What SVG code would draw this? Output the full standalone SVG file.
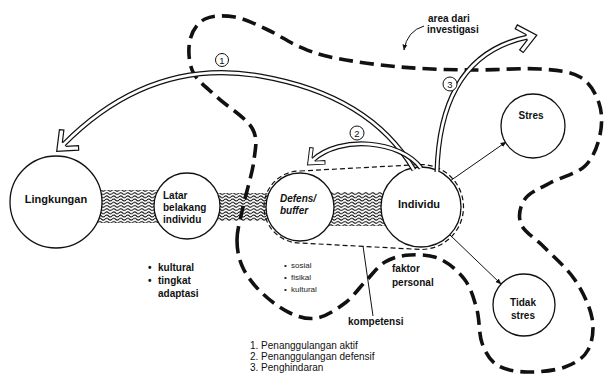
<svg xmlns="http://www.w3.org/2000/svg" xmlns:xlink="http://www.w3.org/1999/xlink" width="604" height="381" viewBox="0 0 604 381">
<style>
text{font-family:"Liberation Sans",Arial,sans-serif;fill:#111}
.b{font-weight:bold;font-size:10px}
.node{fill:#fff;stroke:#111;stroke-width:1.3}
.band{fill:url(#wave)}
.env{fill:none;stroke:#111;stroke-width:1.2;stroke-dasharray:5 3}
.area{fill:none;stroke:#111;stroke-width:3.6;stroke-dasharray:14 7}
.shaftO{fill:none;stroke:#111;stroke-width:5}
.shaftI{fill:none;stroke:#fff;stroke-width:2.6}
.head{fill:#fff;stroke:#111;stroke-width:1.2;stroke-linejoin:miter}
.thin{fill:none;stroke:#111;stroke-width:1}
.num{fill:#fff;stroke:#111;stroke-width:1}
.small{font-size:8px;fill:#222}
.leg{font-size:10px}
</style>
<defs>
<pattern id="wave" width="7" height="3.2" patternUnits="userSpaceOnUse">
<path d="M0,1.6 Q1.75,-0.2 3.5,1.6 T7,1.6" fill="none" stroke="#000" stroke-width="0.95"/>
</pattern>
<path id="hd" d="M-10,-2.5 L-19.8,-10.7 L-16.9,-14.1 L0,0 L-16.9,14.1 L-19.8,10.7 L-10,2.5"/>
<marker id="ah" viewBox="0 0 10 10" refX="9" refY="5" markerWidth="6" markerHeight="6" orient="auto">
<path d="M0,1 L10,5 L0,9 z" fill="#111"/>
</marker>
</defs>
<rect width="604" height="381" fill="#fff"/>

<g id="bands">
<rect class="band" x="95" y="190" width="66" height="33"/>
<rect class="band" x="215" y="193" width="57" height="28"/>
<rect class="band" x="328" y="192" width="60" height="34"/>
</g>

<g id="buffer-envelope">
<path class="env" d="M300,171 L421,164.5 A42.5,42.5 0 0 1 421,249.5 L300,243 A36,36 0 0 1 300,171 Z"/>
</g>

<g id="lingkungan">
<circle class="node" cx="56" cy="202" r="46"/>
<text class="b" x="56" y="203" text-anchor="middle" style="font-size:11px">Lingkungan</text>
</g>
<g id="latar">
<circle class="node" cx="187" cy="206" r="33"/>
<text class="b" x="163" y="199">Latar</text>
<text class="b" x="163" y="211">belakang</text>
<text class="b" x="163" y="223">individu</text>
</g>
<g id="defens">
<circle class="node" cx="300" cy="207" r="34"/>
<text class="b" x="280" y="202" font-style="italic">Defens/</text>
<text class="b" x="280" y="214" font-style="italic">buffer</text>
</g>
<g id="individu">
<circle class="node" cx="421" cy="207" r="40"/>
<text class="b" x="419" y="208" text-anchor="middle" style="font-size:11px">Individu</text>
</g>
<g id="stres">
<circle class="node" cx="533" cy="126" r="32"/>
<text class="b" x="531" y="119" text-anchor="middle">Stres</text>
</g>
<g id="tidak-stres">
<circle class="node" cx="524" cy="305" r="31"/>
<text class="b" x="523" y="306" text-anchor="middle">Tidak</text>
<text class="b" x="523" y="319" text-anchor="middle">stres</text>
</g>

<g id="area-boundary">
<path class="area" d="M237,240 C237,229.8 240.2,220.3 243,207 S252.5,173.2 254,160 S258.2,138.5 252,128 S226.8,106.3 217,97 S197.5,81.5 193,72 S188,48.8 190,40 S197.5,22.8 205,19 S224.5,15.2 235,17 S257.2,25 268,30 S288.8,42.3 300,47 S318.3,54.7 335,58 S377.5,65 400,67 S446.7,69.7 470,70 S521.7,67.8 540,69 S570.2,71.3 580,77 S595.7,93.3 599,103 S602.3,124.5 600,135 S593.3,158 585,166 S560,177.5 550,183 S529.8,192.2 525,199 S517.7,215.8 521,224 S536,238.7 545,248 S567.2,268.3 575,280 S589.8,306.3 592,318 S592.5,341.8 588,350 S575.2,363.3 565,367 S538.3,372.3 527,372 S504.5,369.8 497,365 S485.3,352.2 482,343 S479.8,320.5 477,310 S471.2,288.5 465,280 S449.2,263.2 440,259 S419.2,254.5 410,255 S392.5,257.5 385,262 S371.7,275.2 365,282 S353,297 345,303 S326.2,316.3 317,318 S299.2,317.2 290,313 S269.8,300.5 262,293 S247.2,276.8 243,268 S237,250.2 237,240 Z"/>
</g>

<g id="connectors">
<path class="thin" d="M450,181 L506,142" marker-end="url(#ah)"/>
<path class="thin" d="M450,235 L501,284" marker-end="url(#ah)"/>
<path class="thin" d="M363,246 L373,316"/>
<path class="thin" d="M424,26 Q407,31 404,50" marker-end="url(#ah)"/>
<!-- arrow 1 -->
<path class="shaftO" d="M414,170 Q370,95 260,76 T63,145"/>
<path class="shaftI" d="M414,170 Q370,95 260,76 T63,145"/>
<use href="#hd" class="head" transform="translate(56.7,151.4) rotate(137)"/>
<!-- arrow 2 -->
<path class="shaftO" d="M421,168 C400,140 340,135 313,160"/>
<path class="shaftI" d="M421,168 C400,140 340,135 313,160"/>
<use href="#hd" class="head" transform="translate(307.5,165.1) rotate(137) scale(0.8)"/>
<!-- arrow 3 -->
<path class="shaftO" d="M437,172 Q440,55 528,37"/>
<path class="shaftI" d="M437,172 Q440,55 528,37"/>
<use href="#hd" class="head" transform="translate(536.8,35.2) rotate(-12)"/>
</g>

<g id="markers">
<circle class="num" cx="222" cy="60" r="6.5"/>
<text x="222" y="63.5" text-anchor="middle" style="font-size:9.5px">1</text>
<circle class="num" cx="357" cy="133" r="7"/>
<text x="357" y="136.5" text-anchor="middle" style="font-size:9.5px">2</text>
<circle class="num" cx="450" cy="84" r="7"/>
<text x="450" y="87.5" text-anchor="middle" style="font-size:9.5px">3</text>
</g>

<g id="labels">
<text class="b" x="428" y="22">area dari</text>
<text class="b" x="427" y="33">investigasi</text>
<text class="b" x="148" y="271">•</text>
<text class="b" x="158" y="271">kultural</text>
<text class="b" x="148" y="284">•</text>
<text class="b" x="158" y="284">tingkat</text>
<text class="b" x="158" y="297">adaptasi</text>
<text class="small" x="284" y="268">•</text>
<text class="small" x="291" y="268">sosial</text>
<text class="small" x="284" y="280">•</text>
<text class="small" x="291" y="280">fisikal</text>
<text class="small" x="284" y="292">•</text>
<text class="small" x="291" y="292">kultural</text>
<text class="b" x="392" y="272">faktor</text>
<text class="b" x="392" y="286">personal</text>
<text class="b" x="348" y="325">kompetensi</text>
<text class="leg" x="250" y="349">1. Penanggulangan aktif</text>
<text class="leg" x="250" y="360">2. Penanggulangan defensif</text>
<text class="leg" x="250" y="371">3. Penghindaran</text>
</g>
</svg>
